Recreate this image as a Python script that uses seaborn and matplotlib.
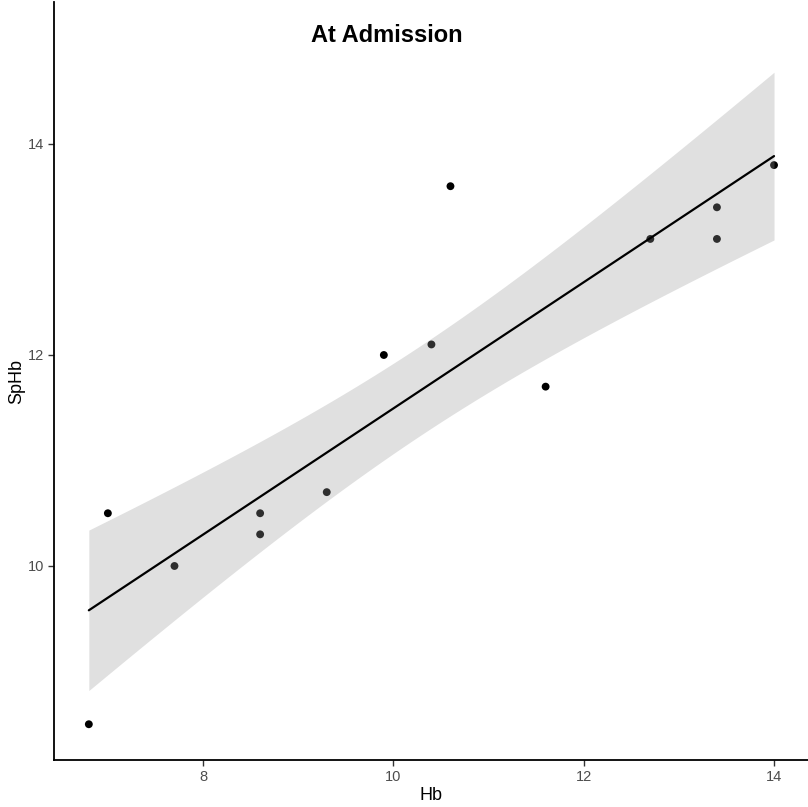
import numpy as np
import pandas as pd
import matplotlib
matplotlib.use("Agg")
import matplotlib.pyplot as plt
import seaborn as sns

# data
hb = [6.8, 7.0, 7.7, 8.6, 8.6, 9.3, 9.9, 10.4, 10.6, 11.6, 12.7, 13.4, 13.4, 14.0]
sphb = [8.5, 10.5, 10.0, 10.5, 10.3, 10.7, 12.0, 12.1, 13.6, 11.7, 13.1, 13.4, 13.1, 13.8]
title = "At Admission"

df = pd.DataFrame({"Hb": hb, "SpHb": sphb})

sns.set_style("white")
plt.rcParams["font.family"] = ["Liberation Sans", "DejaVu Sans"]

fig = plt.figure(figsize=(8.08, 8.07), dpi=100)
ax = fig.add_axes([54 / 808, 47 / 807, 1 - 54 / 808, 1 - 49 / 807])

sns.scatterplot(data=df, x="Hb", y="SpHb", color="black", s=32,
                edgecolor="none", ax=ax, zorder=2)

# lm fit with the usual t-based 95% band (like geom_smooth(method="lm"))
x = np.asarray(hb)
y = np.asarray(sphb)
slope, intercept = np.polyfit(x, y, 1)
n = len(x)
resid = y - (intercept + slope * x)
s = np.sqrt(np.sum(resid ** 2) / (n - 2))
sxx = np.sum((x - x.mean()) ** 2)
t975 = 2.179  # t quantile, df = 12
grid = np.linspace(x.min(), x.max(), 80)
fit = intercept + slope * grid
se = s * np.sqrt(1 / n + (grid - x.mean()) ** 2 / sxx)
ax.fill_between(grid, fit - t975 * se, fit + t975 * se,
                color="#999999", alpha=0.3, linewidth=0, zorder=3)

sns.regplot(data=df, x="Hb", y="SpHb", scatter=False, ci=None, ax=ax,
            line_kws={"color": "black", "linewidth": 1.6, "zorder": 4})

ax.text(9.93, 15.03, title, ha="center", va="center",
        fontsize=17, fontweight="bold", color="black")

ax.set_xlim(6.434, 14.357)
ax.set_ylim(8.161, 15.346)
ax.set_xticks([8, 10, 12, 14])
ax.set_yticks([10, 12, 14])
ax.set_xlabel("Hb", fontsize=13, color="black", labelpad=2)
ax.set_ylabel("SpHb", fontsize=13, color="black", labelpad=2)
ax.tick_params(axis="both", labelsize=10.5, labelcolor="#4D4D4D",
               color="#333333", length=4, width=1, direction="out",
               bottom=True, left=True, pad=3)

sns.despine(ax=ax)
for side in ["left", "bottom"]:
    ax.spines[side].set_color("black")
    ax.spines[side].set_linewidth(1.3)

fig.savefig("out.png", dpi=100)
